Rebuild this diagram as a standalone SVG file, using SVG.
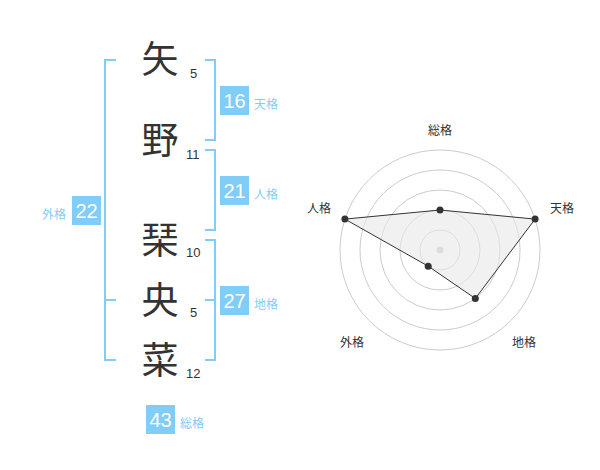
<svg xmlns="http://www.w3.org/2000/svg" width="600" height="470" viewBox="0 0 600 470">
<style>
.k{font-family:"Noto Sans CJK JP",sans-serif;font-size:37px;fill:#333;text-anchor:middle}
.n{font-family:"Liberation Sans",Arial,sans-serif;font-size:13px;fill:#333}
.br{fill:none;stroke:#80cdf8;stroke-width:2}
.box{fill:#80cdf8}
.bn{font-family:"Liberation Sans",Arial,sans-serif;font-size:20px;fill:#fff;text-anchor:middle}
.bl{font-family:"Noto Sans CJK JP",sans-serif;font-size:12px;fill:#80cdf8}
.rl{font-family:"Noto Sans CJK JP",sans-serif;font-size:12px;fill:#333;text-anchor:middle}
.ring{fill:none;stroke:#ccc;stroke-width:1}
.pt{fill:#333}
</style>
<rect width="600" height="470" fill="#fff"/>
<g id="chars">
<g id="c1"><text class="k" x="160" y="73">矢</text><text class="n" x="190" y="78">5</text></g>
<g id="c2"><text class="k" x="160" y="154">野</text><text class="n" x="186" y="159">11</text></g>
<g id="c3"><text class="k" x="160" y="254">琹</text><text class="n" x="186" y="257">10</text></g>
<g id="c4"><text class="k" x="160" y="314">央</text><text class="n" x="190" y="317">5</text></g>
<g id="c5"><text class="k" x="160" y="374">菜</text><text class="n" x="186" y="378">12</text></g>
</g>
<g id="connectors">
<polyline class="br" points="116,60 105,60 105,360 116,360"/>
<line class="br" x1="105" y1="300" x2="116" y2="300"/>
<polyline class="br" points="205,60 215,60 215,140 205,140"/>
<polyline class="br" points="205,150 215,150 215,230 205,230"/>
<polyline class="br" points="205,240 215,240 215,360 205,360"/>
<line class="br" x1="215" y1="300" x2="205" y2="300"/>
</g>
<g id="tenkaku"><rect class="box" x="220" y="86" width="29" height="29"/><text class="bn" x="234.5" y="108">16</text><text class="bl" x="254" y="109">天格</text></g>
<g id="jinkaku"><rect class="box" x="220" y="176" width="29" height="29"/><text class="bn" x="234.5" y="198">21</text><text class="bl" x="254" y="199">人格</text></g>
<g id="chikaku"><rect class="box" x="220" y="286" width="29" height="29"/><text class="bn" x="234.5" y="308">27</text><text class="bl" x="254" y="309">地格</text></g>
<g id="gaikaku"><rect class="box" x="72" y="196" width="29" height="29"/><text class="bn" x="86.5" y="218">22</text><text class="bl" x="42" y="219">外格</text></g>
<g id="soukaku"><rect class="box" x="146" y="405" width="29" height="29"/><text class="bn" x="160.5" y="427">43</text><text class="bl" x="180" y="428">総格</text></g>
<g id="radar">
<circle class="ring" cx="440" cy="250" r="20"/>
<circle class="ring" cx="440" cy="250" r="40"/>
<circle class="ring" cx="440" cy="250" r="60"/>
<circle class="ring" cx="440" cy="250" r="80"/>
<circle class="ring" cx="440" cy="250" r="100"/>
<circle cx="440" cy="250" r="3.5" fill="#ccc"/>
<polygon points="440,210 535.1,219.1 475.3,298.5 428.2,266.2 344.9,219.1" fill="#e8e8e8" fill-opacity="0.6" stroke="#333" stroke-width="1"/>
<circle class="pt" cx="440" cy="210" r="3.5"/>
<circle class="pt" cx="535.1" cy="219.1" r="3.5"/>
<circle class="pt" cx="475.3" cy="298.5" r="3.5"/>
<circle class="pt" cx="428.2" cy="266.2" r="3.5"/>
<circle class="pt" cx="344.9" cy="219.1" r="3.5"/>
<text class="rl" x="440" y="135">総格</text>
<text class="rl" x="562" y="213">天格</text>
<text class="rl" x="319" y="213">人格</text>
<text class="rl" x="352" y="347">外格</text>
<text class="rl" x="524" y="347">地格</text>
</g>
</svg>
